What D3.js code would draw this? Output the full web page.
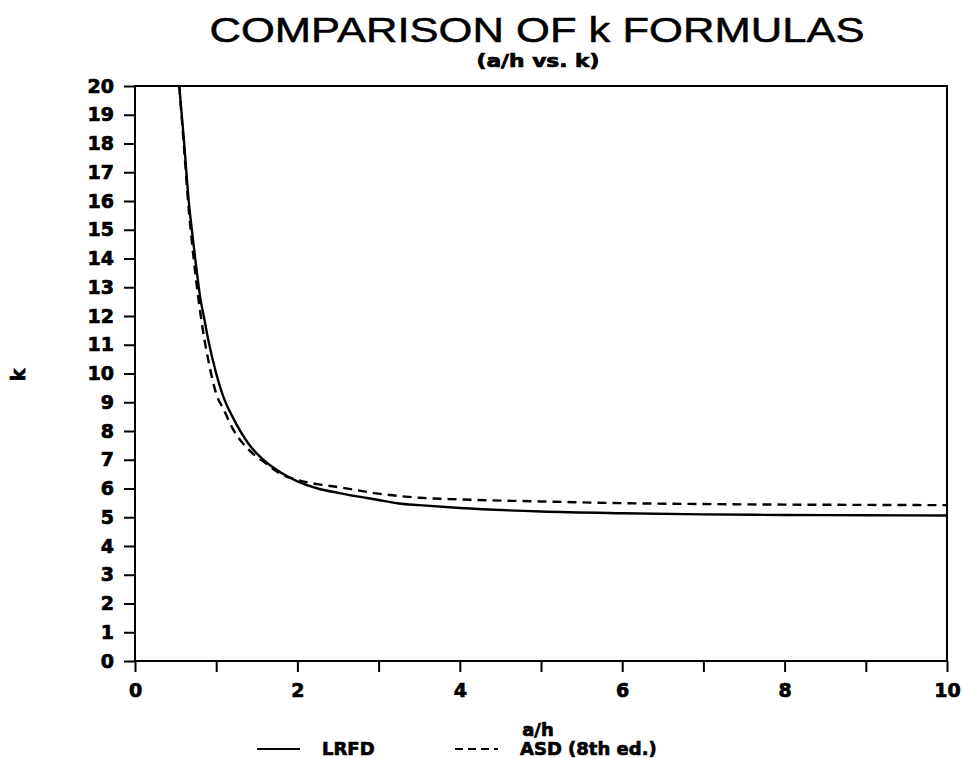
<!DOCTYPE html>
<html>
<head>
<meta charset="utf-8">
<script src="https://cdn.jsdelivr.net/npm/d3@7"></script>
<style>
  body { margin: 0; background: #fff; }
  svg { display: block; }
</style>
</head>
<body>
<script>
// Values.
const aOverH = [0.545, 0.6, 0.665, 0.7, 0.75, 0.8, 0.86, 0.9, 1.0, 1.1, 1.2, 1.4, 1.6, 1.8, 2.0, 2.25, 2.5, 3.0, 3.25, 3.5, 4, 5, 6, 7, 8, 9, 10];
const kLRFD = [20.0, 18.2, 15.9, 15.0, 13.8, 12.7, 11.8, 11.2, 10.0, 9.1, 8.5, 7.55, 6.95, 6.55, 6.25, 6.0, 5.85, 5.6, 5.48, 5.42, 5.32, 5.2, 5.14, 5.1, 5.08, 5.07, 5.06];
const kASD = [20.0, 18.0, 15.6, 14.6, 13.3, 12.2, 11.1, 10.5, 9.3, 8.7, 8.1, 7.35, 6.9, 6.5, 6.3, 6.15, 6.05, 5.82, 5.74, 5.68, 5.62, 5.55, 5.49, 5.46, 5.44, 5.43, 5.42];
const seriesNames = ["LRFD", "ASD (8th ed.)"];
const xTicks = d3.range(0, 11, 1);
const yTicks = d3.range(0, 21, 1);

const W = 963, H = 758;
const margin = { left: 135, right: 16, top: 86, bottom: 97 };

const svg = d3.select("body").append("svg")
  .attr("width", W)
  .attr("height", H);

const x = d3.scaleLinear().domain([0, 10]).range([margin.left, W - margin.right]);
const y = d3.scaleLinear().domain([0, 20]).range([H - margin.bottom, margin.top]);

const heavy = (sel, size) => sel
  .attr("font-family", "DejaVu Sans, sans-serif")
  .attr("font-weight", "bold")
  .attr("font-size", size)
  .attr("fill", "#000")
  .attr("stroke", "#000")
  .attr("stroke-width", 0.7);

// titles
svg.append("text")
  .attr("x", 537).attr("y", 42)
  .attr("text-anchor", "middle")
  .attr("font-family", "Liberation Sans, Arial, sans-serif")
  .attr("font-size", 35)
  .attr("stroke", "#000")
  .attr("stroke-width", 0.5)
  .attr("textLength", 655)
  .attr("lengthAdjust", "spacingAndGlyphs")
  .text("COMPARISON OF k FORMULAS");

svg.append("text")
  .attr("x", 538).attr("y", 67)
  .attr("text-anchor", "middle")
  .attr("textLength", 123)
  .attr("lengthAdjust", "spacingAndGlyphs")
  .call(heavy, 17)
  .text("(a/h vs. k)");

// y axis
svg.append("g")
  .attr("transform", `translate(${margin.left},0)`)
  .call(d3.axisLeft(y).tickValues(yTicks).tickSize(11).tickPadding(10).tickFormat(d3.format("d")))
  .call((g) => g.select(".domain").remove())
  .call((g) => g.selectAll("line").attr("stroke", "#000").attr("stroke-width", 2))
  .call((g) => g.selectAll("text").call(heavy, 19));

// x axis
svg.append("g")
  .attr("transform", `translate(0,${H - margin.bottom})`)
  .call(d3.axisBottom(x).tickValues(xTicks).tickSize(11).tickPadding(12)
    .tickFormat((d) => (d % 2 === 0 ? d : "")))
  .call((g) => g.select(".domain").remove())
  .call((g) => g.selectAll("line").attr("stroke", "#000").attr("stroke-width", 2))
  .call((g) => g.selectAll("text").call(heavy, 19));

// plot frame
svg.append("rect")
  .attr("x", x(0)).attr("y", y(20))
  .attr("width", x(10) - x(0)).attr("height", y(0) - y(20))
  .attr("fill", "none")
  .attr("stroke", "#000")
  .attr("stroke-width", 2);

svg.append("clipPath").attr("id", "plot")
  .append("rect")
  .attr("x", x(0)).attr("y", y(20))
  .attr("width", x(10) - x(0)).attr("height", y(0) - y(20));

const line = d3.line()
  .x((d) => x(d[0]))
  .y((d) => y(d[1]))
  .curve(d3.curveMonotoneX);

const plot = svg.append("g").attr("clip-path", "url(#plot)");

plot.append("path")
  .datum(d3.zip(aOverH, kASD))
  .attr("d", line)
  .attr("fill", "none")
  .attr("stroke", "#000")
  .attr("stroke-width", 2.4)
  .attr("stroke-dasharray", "9,6");

plot.append("path")
  .datum(d3.zip(aOverH, kLRFD))
  .attr("d", line)
  .attr("fill", "none")
  .attr("stroke", "#000")
  .attr("stroke-width", 2.4);

// axis titles
svg.append("text")
  .attr("transform", "translate(25,375) rotate(-90)")
  .attr("text-anchor", "middle")
  .call(heavy, 19)
  .text("k");

svg.append("text")
  .attr("x", 538).attr("y", 736)
  .attr("text-anchor", "middle")
  .call(heavy, 18)
  .text("a/h");

// legend
const legend = [
  { name: seriesNames[0], x1: 257, x2: 300, tx: 322, dash: null },
  { name: seriesNames[1], x1: 455, x2: 498, tx: 520, dash: "8,5" },
];
const lg = svg.append("g").selectAll("g").data(legend).join("g");
lg.append("line")
  .attr("x1", (d) => d.x1).attr("x2", (d) => d.x2)
  .attr("y1", 749).attr("y2", 749)
  .attr("stroke", "#000")
  .attr("stroke-width", 2)
  .attr("stroke-dasharray", (d) => d.dash);
lg.append("text")
  .attr("x", (d) => d.tx).attr("y", 755)
  .call(heavy, 18)
  .text((d) => d.name);
</script>
</body>
</html>
